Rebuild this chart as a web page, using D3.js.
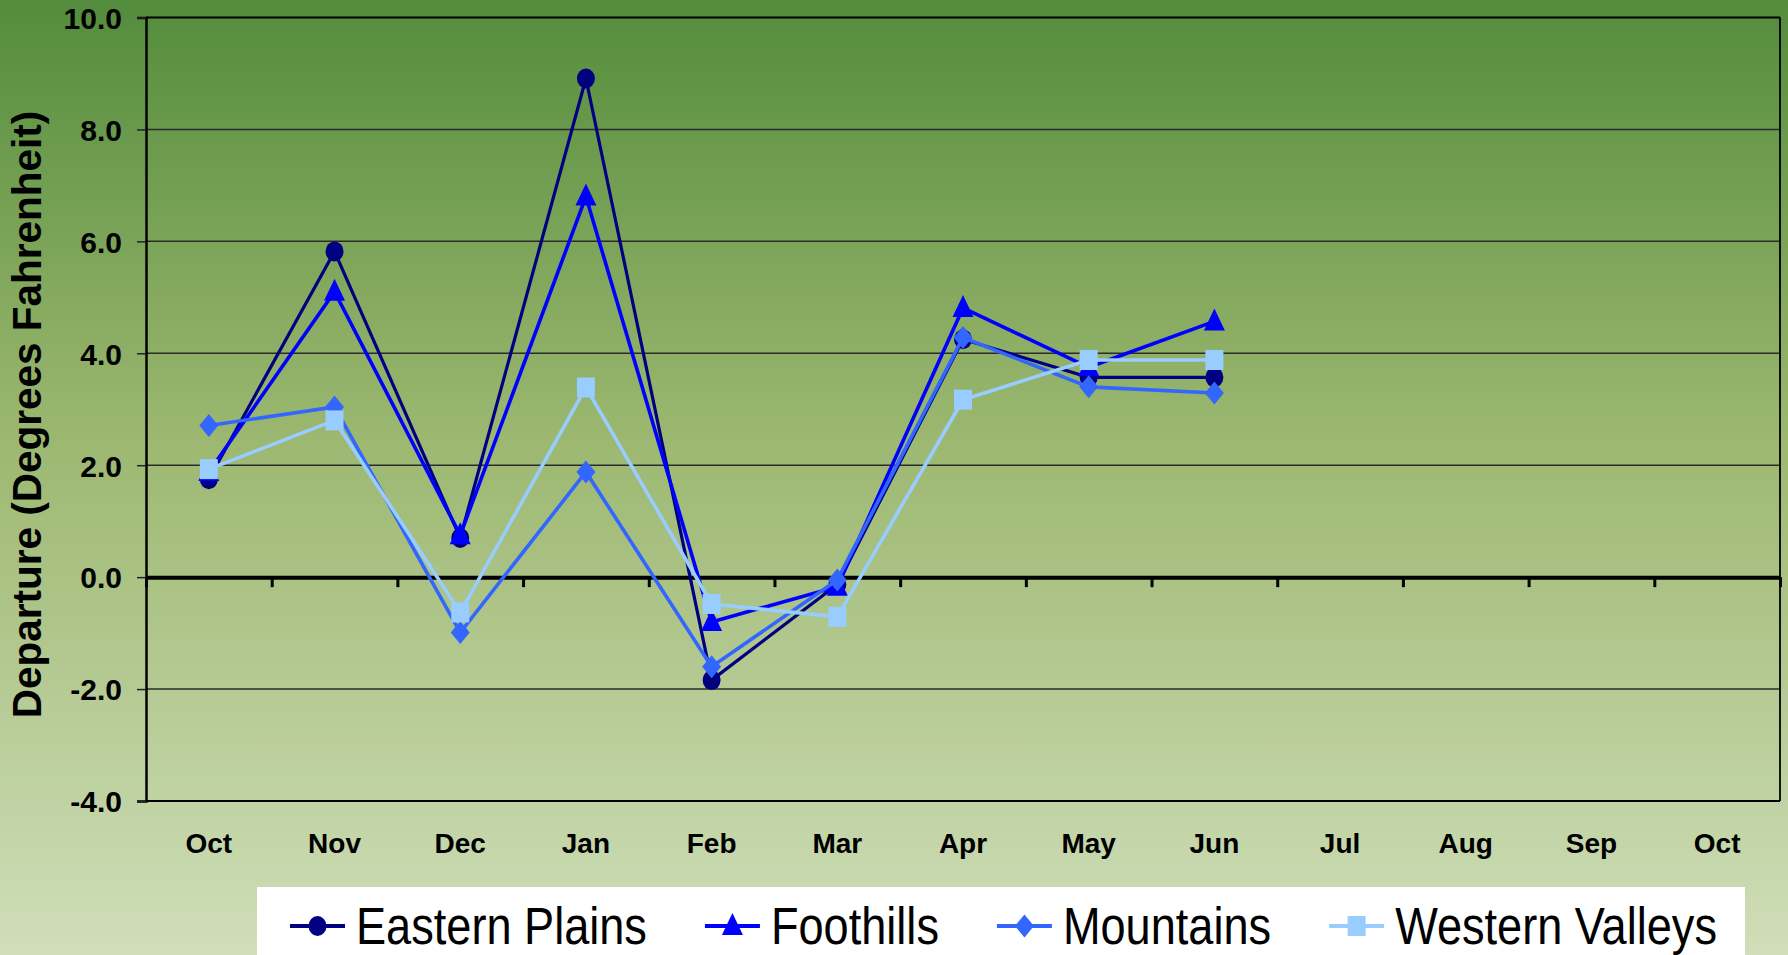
<!DOCTYPE html>
<html>
<head>
<meta charset="utf-8">
<script src="https://cdn.jsdelivr.net/npm/d3@7"></script>
<style>
  html, body { margin: 0; padding: 0; background: #fff; }
  svg { display: block; }
  text { font-family: "Liberation Sans", Arial, Helvetica, sans-serif; }
</style>
</head>
<body>
<svg id="chart" width="1788" height="955"></svg>
<script>
// ---- data ----
const months = ["Oct", "Nov", "Dec", "Jan", "Feb", "Mar", "Apr", "May", "Jun", "Jul", "Aug", "Sep", "Oct"];
const seriesNames = ["Eastern Plains", "Foothills", "Mountains", "Western Valleys"];
const easternPlains  = [1.75, 5.82, 0.70, 8.91, -1.84, -0.13, 4.25, 3.57, 3.57];
const foothills      = [1.88, 5.10, 0.75, 6.80, -0.80, -0.17, 4.81, 3.75, 4.57];
const mountains      = [2.71, 3.04, -0.99, 1.88, -1.60, -0.05, 4.28, 3.40, 3.29];
const westernValleys = [1.93, 2.80, -0.63, 3.39, -0.48, -0.71, 3.17, 3.88, 3.88];
const yTicks = [-4, -2, 0, 2, 4, 6, 8, 10];
const yTitle = "Departure (Degrees Fahrenheit)";

const seriesValues = [easternPlains, foothills, mountains, westernValleys];
const colors = ["#000080", "#0000FF", "#3366FF", "#99CCFF"];
const shapes = ["circle", "triangle", "diamond", "square"];

// ---- layout ----
const W = 1788, H = 955;
const plot = { left: 146, right: 1780, top: 17.5, bottom: 801 };

const svg = d3.select("#chart");

// background gradient
const defs = svg.append("defs");
const grad = defs.append("linearGradient").attr("id", "bg")
  .attr("x1", 0).attr("y1", 0).attr("x2", 0).attr("y2", 1);
grad.append("stop").attr("offset", "0%").attr("stop-color", "#538C3C");
grad.append("stop").attr("offset", "45%").attr("stop-color", "#9BB76F");
grad.append("stop").attr("offset", "100%").attr("stop-color", "#D0DEB9");
svg.append("rect").attr("width", W).attr("height", H).attr("fill", "url(#bg)");

// scales
const idx = d3.range(months.length);
const x = d3.scaleBand().domain(idx).range([plot.left, plot.right]).padding(0);
const xc = i => x(i) + x.bandwidth() / 2;
const xb = d3.scaleLinear().domain([0, months.length]).range([plot.left, plot.right]);
const y = d3.scaleLinear().domain([-4, 10]).range([plot.bottom, plot.top]);

// gridlines
svg.append("g").selectAll("line").data(yTicks.filter(t => t !== 0 && t !== -4))
  .join("line")
  .attr("x1", plot.left).attr("x2", plot.right)
  .attr("y1", d => y(d)).attr("y2", d => y(d))
  .attr("stroke", d => d === 10 ? "#000" : "#2b2b2b")
  .attr("stroke-width", d => d === 10 ? 2 : 1.5);

// plot border (right & bottom)
svg.append("line").attr("x1", plot.right).attr("x2", plot.right)
  .attr("y1", plot.top).attr("y2", plot.bottom).attr("stroke", "#000").attr("stroke-width", 1.8);
svg.append("line").attr("x1", plot.left).attr("x2", plot.right)
  .attr("y1", plot.bottom).attr("y2", plot.bottom).attr("stroke", "#000").attr("stroke-width", 1.8);

// y axis
const fmt = d => d3.format(".1f")(d).replace("\u2212", "-");
const yAxis = svg.append("g").attr("transform", `translate(${plot.left},0)`)
  .call(d3.axisLeft(y).tickValues(yTicks).tickSize(9).tickPadding(15).tickFormat(fmt));
yAxis.select(".domain").attr("stroke", "#000").attr("stroke-width", 2.5);
yAxis.selectAll(".tick line").attr("stroke", "#222").attr("stroke-width", 1.5);
yAxis.selectAll(".tick text")
  .attr("font-family", "'Liberation Sans', Arial, sans-serif")
  .attr("font-size", 30).attr("font-weight", "bold").attr("fill", "#000").attr("dy", "0.36em");

// zero axis with boundary ticks
const zAxis = svg.append("g").attr("transform", `translate(0,${y(0)})`)
  .call(d3.axisBottom(xb).tickValues(d3.range(0, months.length + 1)).tickSize(10).tickSizeOuter(0).tickFormat(""));
zAxis.select(".domain").attr("stroke", "#000").attr("stroke-width", 4);
zAxis.selectAll(".tick line").attr("stroke", "#000").attr("stroke-width", 3);

// month labels below plot
const xAxis = svg.append("g").attr("transform", `translate(0,${plot.bottom})`)
  .call(d3.axisBottom(x).tickSize(0).tickPadding(32).tickFormat(i => months[i]));
xAxis.select(".domain").remove();
xAxis.selectAll(".tick text")
  .attr("font-family", "'Liberation Sans', Arial, sans-serif")
  .attr("font-size", 28).attr("font-weight", "bold").attr("fill", "#000");

// y title
svg.append("text")
  .attr("transform", `translate(41,${(114 + 715) / 2}) rotate(-90)`)
  .attr("text-anchor", "middle")
  .attr("font-size", 40.5).attr("font-weight", "bold").attr("fill", "#000")
  .text(yTitle);

// marker drawing
function marker(sel, shape, color) {
  if (shape === "circle") {
    sel.append("ellipse").attr("rx", 9).attr("ry", 10).attr("fill", color);
  } else if (shape === "triangle") {
    sel.append("path").attr("d", "M0,-13 L10.5,9 L-10.5,9 Z").attr("fill", color);
  } else if (shape === "diamond") {
    sel.append("path").attr("d", "M0,-11.5 L9.5,0 L0,11.5 L-9.5,0 Z").attr("fill", color);
  } else {
    sel.append("rect").attr("x", -9).attr("y", -10).attr("width", 18).attr("height", 20).attr("fill", color);
  }
}

const line = d3.line().x((d, i) => xc(i)).y(d => y(d));

seriesValues.forEach((vals, s) => {
  const g = svg.append("g");
  g.append("path").datum(vals).attr("d", line)
    .attr("fill", "none").attr("stroke", colors[s])
    .attr("stroke-width", s === 0 ? 3.2 : 3.6).attr("stroke-linejoin", "miter");
  g.selectAll("g.m").data(vals).join("g").attr("class", "m")
    .attr("transform", (d, i) => `translate(${xc(i)},${y(d)})`)
    .each(function () { marker(d3.select(this), shapes[s], colors[s]); });
});

// legend
const leg = svg.append("g");
leg.append("rect").attr("x", 257).attr("y", 887).attr("width", 1745 - 257).attr("height", 80).attr("fill", "#fff");
let lx = 290;
const ly = 926;
const sx = 0.885;
seriesNames.forEach((name, s) => {
  const item = leg.append("g");
  item.append("line").attr("x1", lx).attr("x2", lx + 55).attr("y1", ly).attr("y2", ly)
    .attr("stroke", colors[s]).attr("stroke-width", 4);
  const m = item.append("g").attr("transform", `translate(${lx + 27.5},${ly})`);
  marker(m, shapes[s], colors[s]);
  const t = item.append("text")
    .attr("transform", `translate(${lx + 66},944) scale(${sx},1)`)
    .attr("font-size", 51).attr("fill", "#000").text(name);
  const w = t.node().getComputedTextLength() * sx;
  lx = lx + 66 + w + 58;
});
</script>
</body>
</html>
